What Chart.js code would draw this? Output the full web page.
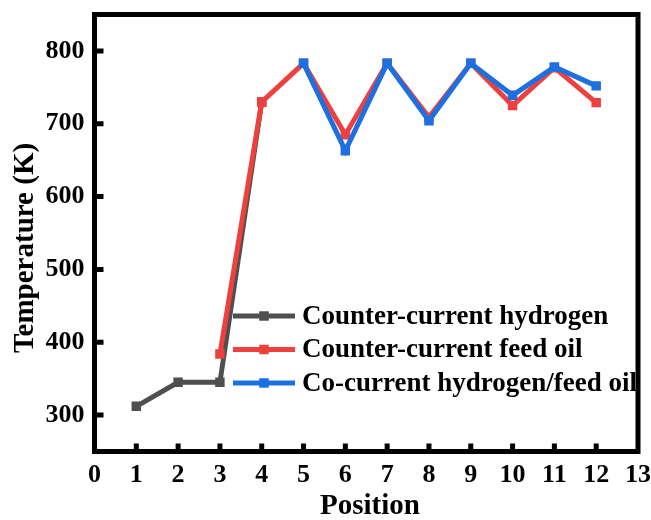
<!DOCTYPE html>
<html>
<head>
<meta charset="utf-8">
<script src="https://cdn.jsdelivr.net/npm/chart.js@4/dist/chart.umd.min.js"></script>
<style>
  html, body { margin: 0; padding: 0; background: #fff; }
  #wrap { width: 651px; height: 520px; }
</style>
</head>
<body>
<div id="wrap"><canvas id="tempChart"></canvas></div>
<script>
// temperature profile along the bed positions
const hydrogenPos = [1, 2, 3, 4];
const hydrogenTemp = [312, 345, 345, 730];

const feedOilPos = [3, 4, 5, 6, 7, 8, 9, 10, 11, 12];
const feedOilTemp = [384, 730, 783, 685, 783, 709, 783, 725, 777, 729];

const coCurrentPos = [5, 6, 7, 8, 9, 10, 11, 12];
const coCurrentTemp = [783, 663, 783, 704, 783, 739, 778, 752];

const yTicks = [300, 400, 500, 600, 700, 800];
const xTicks = [0, 1, 2, 3, 4, 5, 6, 7, 8, 9, 10, 11, 12, 13];

const xTitle = "Position";
const yTitle = "Temperature (K)";

const serif = "'Liberation Serif', 'Times New Roman', serif";

function toPoints(xs, ys) {
  return xs.map((x, i) => ({ x: x, y: ys[i] }));
}

function series(label, xs, ys, color, order) {
  return {
    label: label,
    data: toPoints(xs, ys),
    borderColor: color,
    backgroundColor: color,
    borderWidth: 5,
    pointStyle: "rect",
    pointRadius: 6.7,
    pointHoverRadius: 6.7,
    pointBorderWidth: 0,
    tension: 0,
    order: order,
  };
}

// black box round the plot with short ticks pointing inwards
const framePlugin = {
  id: "frame",
  afterDraw(chart) {
    const { ctx, chartArea: a, scales } = chart;
    ctx.save();
    ctx.strokeStyle = "#000";
    ctx.lineWidth = 5;
    ctx.lineCap = "butt";
    ctx.beginPath();
    scales.x.ticks.forEach((t) => {
      if (t.value <= scales.x.min || t.value >= scales.x.max) return;
      const px = scales.x.getPixelForValue(t.value);
      ctx.moveTo(px, a.bottom);
      ctx.lineTo(px, a.bottom - 8);
    });
    scales.y.ticks.forEach((t) => {
      const py = scales.y.getPixelForValue(t.value);
      ctx.moveTo(a.left, py);
      ctx.lineTo(a.left + 9, py);
    });
    ctx.stroke();
    ctx.strokeRect(a.left, a.top, a.right - a.left, a.bottom - a.top);
    ctx.restore();
  },
};

// axis titles, placed by hand so they sit a little off-centre
const titlePlugin = {
  id: "axisTitles",
  afterDraw(chart) {
    const { ctx } = chart;
    ctx.save();
    ctx.font = "bold 29px " + serif;
    ctx.fillStyle = "#000";
    ctx.textAlign = "center";
    ctx.textBaseline = "middle";
    ctx.fillText(xTitle, 370, 507);
    ctx.translate(26, 248);
    ctx.rotate(-Math.PI / 2);
    ctx.fillText(yTitle, 0, 0);
    ctx.restore();
  },
};

// legend with a line-and-marker sample per series, inside the plot
const legendPlugin = {
  id: "lineLegend",
  afterDraw(chart) {
    const { ctx } = chart;
    const rows = [316, 349.5, 383];
    ctx.save();
    ctx.font = "bold 27px " + serif;
    ctx.textBaseline = "middle";
    ctx.textAlign = "left";
    chart.data.datasets.forEach((ds, i) => {
      const y = rows[i];
      ctx.strokeStyle = ds.borderColor;
      ctx.lineWidth = 5;
      ctx.beginPath();
      ctx.moveTo(233, y);
      ctx.lineTo(295, y);
      ctx.stroke();
      ctx.fillStyle = ds.borderColor;
      ctx.fillRect(264 - 4.75, y - 4.75, 9.5, 9.5);
      ctx.fillStyle = "#000";
      ctx.fillText(ds.label, 302, y + 1);
    });
    ctx.restore();
  },
};

new Chart(document.getElementById("tempChart"), {
  type: "line",
  data: {
    datasets: [
      series("Counter-current hydrogen", hydrogenPos, hydrogenTemp, "#4f4f4f", 3),
      series("Counter-current feed oil", feedOilPos, feedOilTemp, "#ef4040", 2),
      series("Co-current hydrogen/feed oil", coCurrentPos, coCurrentTemp, "#1c70e0", 1),
    ],
  },
  options: {
    responsive: true,
    maintainAspectRatio: false,
    animation: false,
    layout: {
      padding: { top: 14.5, right: 13, left: 0, bottom: 0 },
    },
    scales: {
      x: {
        type: "linear",
        min: 0,
        max: 13,
        afterFit: (scale) => {
          scale.height = 68.5;
          scale.paddingLeft = 0;
          scale.paddingRight = 0;
        },
        afterBuildTicks: (scale) => {
          scale.ticks = xTicks.map((v) => ({ value: v }));
        },
        grid: { display: false, drawTicks: false },
        border: { display: false },
        ticks: {
          padding: 8,
          color: "#000",
          maxRotation: 0,
          autoSkip: false,
          font: { family: serif, size: 26, weight: "bold" },
        },
      },
      y: {
        min: 250,
        max: 850,
        afterFit: (scale) => {
          scale.width = 94.5;
          scale.paddingTop = 0;
          scale.paddingBottom = 0;
        },
        afterBuildTicks: (scale) => {
          scale.ticks = yTicks.map((v) => ({ value: v }));
        },
        grid: { display: false, drawTicks: false },
        border: { display: false },
        ticks: {
          padding: 10,
          color: "#000",
          font: { family: serif, size: 26, weight: "bold" },
        },
      },
    },
    plugins: {
      legend: { display: false },
      tooltip: { enabled: false },
    },
  },
  plugins: [framePlugin, titlePlugin, legendPlugin],
});
</script>
</body>
</html>
